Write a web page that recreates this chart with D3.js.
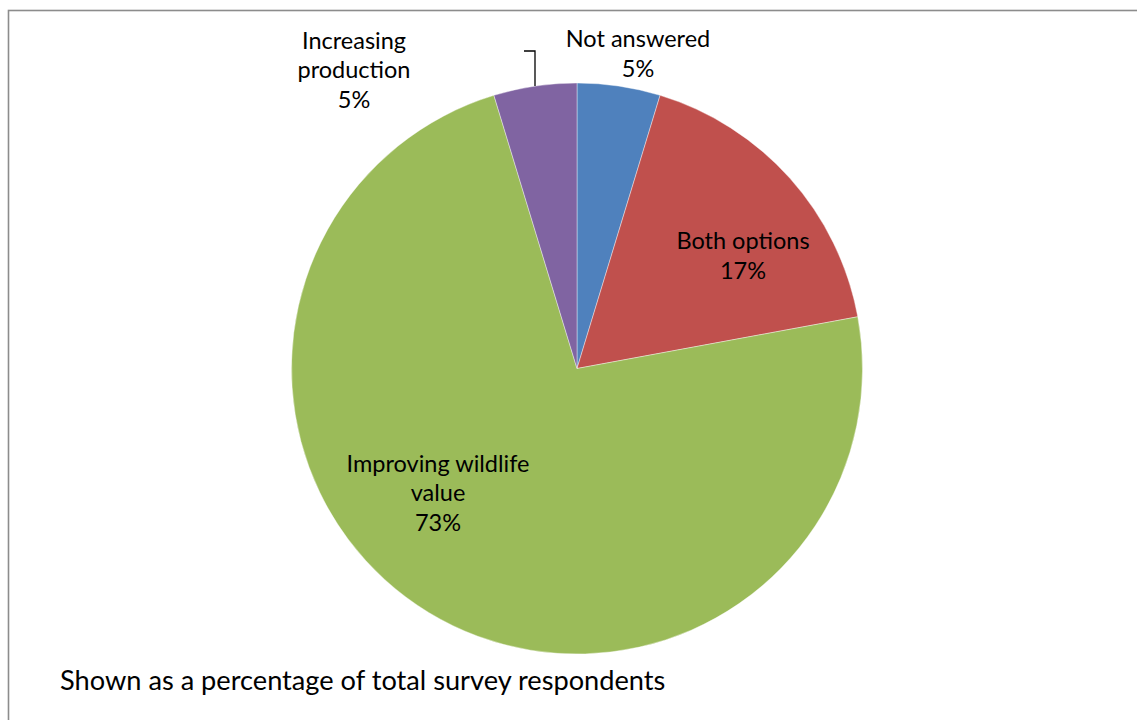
<!DOCTYPE html>
<html>
<head>
<meta charset="utf-8">
<script src="https://cdn.jsdelivr.net/npm/d3@7"></script>
<style>
  html, body { margin: 0; padding: 0; background: #fff; }
  svg { display: block; }
  text { font-family: Lato, "Liberation Sans", sans-serif; fill: #000; }
</style>
</head>
<body>
<svg id="chart" width="1137" height="720"></svg>
<script>
// ---- data ----
const categories = ["Not answered", "Both options", "Improving wildlife value", "Increasing production"];
const values = [4.7, 17.4, 73.2, 4.7];
const percentLabels = ["5%", "17%", "73%", "5%"];
const labelLines = [["Not answered"], ["Both options"], ["Improving wildlife", "value"], ["Increasing", "production"]];
const colors = ["#4F81BD", "#C0504D", "#9BBB59", "#8064A2"];

// ---- layout ----
const W = 1137, H = 720;
const cx = 577, cy = 368.5, R = 285.5;
// label offsets relative to pie centre (dx, dy of first baseline)
const labelLayout = [
  { dx: 61,  dy: -321.5 },
  { dx: 166, dy: -119.5 },
  { dx: -139, dy: 103 },
  { dx: -223, dy: -320 }
];
const lineH = 29.8;
const fontSize = 23.5;

const svg = d3.select("#chart");

// chart border (extends past right & bottom edges)
svg.append("rect")
  .attr("x", 8.5).attr("y", 10.5)
  .attr("width", W + 20).attr("height", H + 20)
  .attr("fill", "none").attr("stroke", "#8c8c8c").attr("stroke-width", 1.6);

const pie = d3.pie().sort(null).value(d => d)
  .startAngle(0).endAngle(2 * Math.PI);
const arcs = pie(values);
const arc = d3.arc().innerRadius(0).outerRadius(R);

const g = svg.append("g").attr("transform", `translate(${cx},${cy})`);

g.selectAll("path.slice")
  .data(arcs)
  .join("path")
  .attr("class", "slice")
  .attr("d", arc)
  .attr("fill", (d, i) => colors[i])
  .attr("stroke", "#fff")
  .attr("stroke-width", 0.4);

// leader line for the small "Increasing production" slice
const leaderIdx = 3;
const la = arcs[leaderIdx];
const mid = (la.startAngle + la.endAngle) / 2;
const p0 = [Math.sin(mid) * R, -Math.cos(mid) * R];
const leaderTopY = labelLayout[0].dy + 4;
g.append("path")
  .attr("d", d3.line()([[p0[0], p0[1]], [p0[0], leaderTopY], [p0[0] - 11, leaderTopY]]))
  .attr("fill", "none").attr("stroke", "#000").attr("stroke-width", 1.3);

// labels
const lab = g.selectAll("text.lbl")
  .data(arcs)
  .join("text")
  .attr("class", "lbl")
  .attr("text-anchor", "middle")
  .style("font-size", fontSize + "px")
  .attr("x", (d, i) => labelLayout[i].dx)
  .attr("y", (d, i) => labelLayout[i].dy);

lab.each(function(d, i) {
  const t = d3.select(this);
  const lines = labelLines[i].concat([percentLabels[i]]);
  lines.forEach((ln, j) => {
    t.append("tspan")
      .attr("x", labelLayout[i].dx)
      .attr("y", labelLayout[i].dy + j * lineH)
      .text(ln);
  });
});

// footnote
svg.append("text")
  .attr("x", 60).attr("y", 690)
  .style("font-size", "27.2px")
  .text("Shown as a percentage of total survey respondents");
</script>
</body>
</html>
